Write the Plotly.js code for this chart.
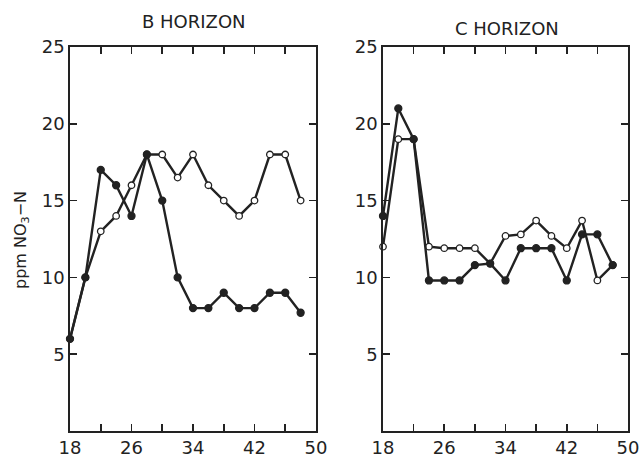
<!DOCTYPE html>
<html>
<head>
<meta charset="utf-8">
<script src="https://cdn.plot.ly/plotly-3.0.1.min.js"></script>
<style>html,body{margin:0;padding:0;background:#fff;}#chart{width:640px;height:459px;}</style>
</head>
<body>
<div id="chart"></div>
<script>
// B horizon
const bX = [18, 20, 22, 24, 26, 28, 30, 32, 34, 36, 38, 40, 42, 44, 46, 48];
const bFilled = [6, 10, 17, 16, 14, 18, 15, 10, 8, 8, 9, 8, 8, 9, 9, 7.7];
const bOpen = [6, 10, 13, 14, 16, 18, 18, 16.5, 18, 16, 15, 14, 15, 18, 18, 15];
// C horizon
const cX = [18, 20, 22, 24, 26, 28, 30, 32, 34, 36, 38, 40, 42, 44, 46, 48];
const cFilled = [14, 21, 19, 9.8, 9.8, 9.8, 10.8, 10.9, 9.8, 11.9, 11.9, 11.9, 9.8, 12.8, 12.8, 10.8];
const cOpen = [12, 19, 19, 12, 11.9, 11.9, 11.9, 10.9, 12.7, 12.8, 13.7, 12.7, 11.9, 13.7, 9.8, 10.8];

const xTickVals = [18, 22, 26, 30, 34, 38, 42, 46, 50];
const xTickText = ['18', '', '26', '', '34', '', '42', '', '50'];
const yTickVals = [5, 10, 15, 20, 25];
const yTickText = ['5', '10', '15', '20', '25'];

const INK = '#222';
const FONT = 'DejaVu Sans, sans-serif';

function series(x, y, filled, xa, ya) {
  return {
    x: x, y: y, xaxis: xa, yaxis: ya, type: 'scatter', mode: 'lines+markers',
    cliponaxis: false, showlegend: false,
    line: {color: INK, width: 2.4},
    marker: {size: filled ? 7 : 6.5, color: filled ? INK : '#fff', line: {color: INK, width: 1.3}}
  };
}

const data = [
  series(bX, bOpen, false, 'x', 'y'),
  series(bX, bFilled, true, 'x', 'y'),
  series(cX, cOpen, false, 'x2', 'y2'),
  series(cX, cFilled, true, 'x2', 'y2')
];

function xAxis(domain, anchor) {
  return {
    domain: domain, anchor: anchor, range: [18, 50], tickvals: xTickVals, ticktext: xTickText,
    ticks: 'inside', ticklen: 7, tickwidth: 1.6, tickcolor: INK,
    showline: true, linecolor: INK, linewidth: 1.7, mirror: 'ticks',
    showgrid: false, zeroline: false, fixedrange: true,
    tickfont: {family: FONT, size: 18, color: INK}
  };
}
function yAxis(domain, anchor) {
  return {
    domain: domain, anchor: anchor, range: [0, 25], tickvals: yTickVals, ticktext: yTickText,
    ticks: 'inside', ticklen: 7, tickwidth: 1.6, tickcolor: INK,
    showline: true, linecolor: INK, linewidth: 1.7, mirror: 'ticks',
    showgrid: false, zeroline: false, fixedrange: true,
    tickfont: {family: FONT, size: 18, color: INK}
  };
}

const layout = {
  width: 640, height: 459,
  margin: {l: 0, r: 0, t: 0, b: 0},
  paper_bgcolor: '#fff', plot_bgcolor: '#fff',
  xaxis: xAxis([70/640, 316/640], 'y'),
  yaxis: yAxis([1 - 431/459, 1 - 47/459], 'x'),
  xaxis2: xAxis([383/640, 628/640], 'y2'),
  yaxis2: yAxis([1 - 431/459, 1 - 47/459], 'x2'),
  annotations: [
    {text: 'B HORIZON', xref: 'paper', yref: 'paper', x: 194/640, y: 1 - 22/459,
     xanchor: 'center', yanchor: 'middle', showarrow: false, font: {family: FONT, size: 18, color: INK}},
    {text: 'C HORIZON', xref: 'paper', yref: 'paper', x: 507/640, y: 1 - 28/459,
     xanchor: 'center', yanchor: 'middle', showarrow: false, font: {family: FONT, size: 18, color: INK}},
    {text: 'ppm NO<sub>3</sub>\u2212N', xref: 'paper', yref: 'paper', x: 21/640, y: 1 - 240/459,
     xanchor: 'center', yanchor: 'middle', textangle: -90, showarrow: false, font: {family: FONT, size: 16, color: INK}}
  ]
};

Plotly.newPlot('chart', data, layout, {displayModeBar: false, staticPlot: true});
</script>
</body>
</html>
